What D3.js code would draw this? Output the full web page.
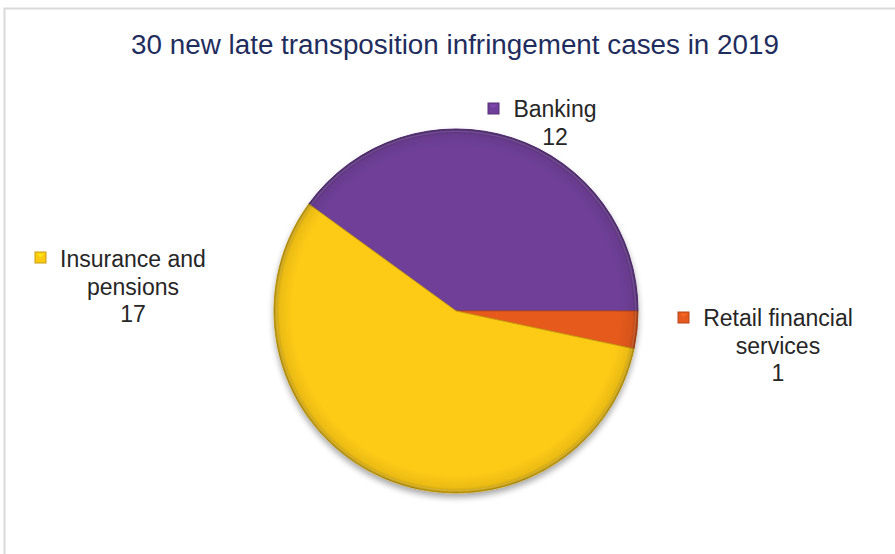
<!DOCTYPE html>
<html><head><meta charset="utf-8">
<script src="https://cdn.jsdelivr.net/npm/d3@7"></script>
<style>html,body{margin:0;padding:0;background:#fff;}svg{display:block;}</style>
</head><body>
<svg id="chart" width="895" height="554"></svg>
<script>
const title = "30 new late transposition infringement cases in 2019";
const categories = ["Banking", "Retail financial services", "Insurance and pensions"];
const values = [12, 1, 17];
const labelLines = [["Banking"], ["Retail financial", "services"], ["Insurance and", "pensions"]];
const colors = ["#703f99", "#e65a1f", "#fdca12"];

const W = 895, H = 554;
const svg = d3.select("#chart");
const defs = svg.append("defs");

// frame
svg.append("rect").attr("x", 4.5).attr("y", 8.5).attr("width", 900).attr("height", 560)
  .attr("fill", "#fff").attr("stroke", "#d9d9d9").attr("stroke-width", 2);

// title
const t = svg.append("text").attr("x", 455).attr("y", 54).attr("text-anchor", "middle")
  .attr("font-family", "Liberation Sans, Arial, sans-serif").attr("font-size", 26)
  .attr("fill", "#1f2d5e").text(title);
const tl = t.node().getComputedTextLength();
t.attr("font-size", 26 * 648 / tl);

// pie
const cx = 456, cy = 311, r = 182;
const total = d3.sum(values);
const start = Math.PI / 2 - 2 * Math.PI * values[0] / total;
const pie = d3.pie().sort(null).startAngle(start).endAngle(start + 2 * Math.PI);
const arcs = pie(values);
const arc = d3.arc().innerRadius(0).outerRadius(r);

// shadow filter
const f = defs.append("filter").attr("id", "shadow").attr("x", "-20%").attr("y", "-20%").attr("width", "140%").attr("height", "140%");
f.append("feGaussianBlur").attr("in", "SourceAlpha").attr("stdDeviation", 3).attr("result", "b");
f.append("feOffset").attr("in", "b").attr("dy", 4).attr("result", "o");
f.append("feComponentTransfer").attr("in", "o").attr("result", "o2")
  .append("feFuncA").attr("type", "linear").attr("slope", 0.35);
const m = f.append("feMerge");
m.append("feMergeNode").attr("in", "o2");
m.append("feMergeNode").attr("in", "SourceGraphic");

// rim shading gradient
const rg = defs.append("radialGradient").attr("id", "rim").attr("cx", "50%").attr("cy", "50%").attr("r", "50%");
rg.append("stop").attr("offset", "0.9").attr("stop-color", "#000").attr("stop-opacity", 0);
rg.append("stop").attr("offset", "0.97").attr("stop-color", "#000").attr("stop-opacity", 0.07);
rg.append("stop").attr("offset", "1").attr("stop-color", "#000").attr("stop-opacity", 0.28);

const g = svg.append("g").attr("transform", `translate(${cx},${cy})`);
const pg = g.append("g").attr("filter", "url(#shadow)");
pg.selectAll("path.slice").data(arcs).join("path").attr("class", "slice")
  .attr("d", arc).attr("fill", (d, i) => colors[i])
  .attr("stroke", (d, i) => d3.color(colors[i]).darker(0.6)).attr("stroke-width", 1)
  .attr("stroke-linejoin", "round");
g.append("circle").attr("r", r).attr("fill", "url(#rim)").attr("pointer-events", "none");
// slice edge highlights
g.selectAll("path.edge").data(arcs).join("path").attr("class", "edge")
  .attr("d", d3.arc().innerRadius(r - 3).outerRadius(r - 1.5))
  .attr("fill", "#fff").attr("opacity", 0.12);

// labels
const labelPos = [
  { x: 555, y: 117, mx: 488, my: 103 },
  { x: 778, y: 326, mx: 678, my: 312 },
  { x: 133, y: 267, mx: 35, my: 252 }
];
const lineH = 27.5;
arcs.forEach((d, i) => {
  const p = labelPos[i];
  const lines = labelLines[i].concat([String(values[i])]);
  const tx = svg.append("text").attr("font-family", "Liberation Sans, Arial, sans-serif")
    .attr("font-size", 23).attr("fill", "#262626").attr("text-anchor", "middle");
  lines.forEach((ln, k) => {
    tx.append("tspan").attr("x", p.x).attr("y", p.y + k * lineH).text(ln);
  });
  const c = colors[i];
  svg.append("rect").attr("x", p.mx).attr("y", p.my).attr("width", 11).attr("height", 11)
    .attr("fill", c).attr("stroke", d3.color(c).darker(0.7)).attr("stroke-width", 1);
  svg.append("path").attr("d", `M${p.mx + 1.5},${p.my + 1.5}L${p.mx + 5.5},${p.my + 5.5}L${p.mx + 9.5},${p.my + 1.5}Z`)
    .attr("fill", d3.color(c).brighter(0.6)).attr("opacity", 0.6);
});
</script>
</body></html>
